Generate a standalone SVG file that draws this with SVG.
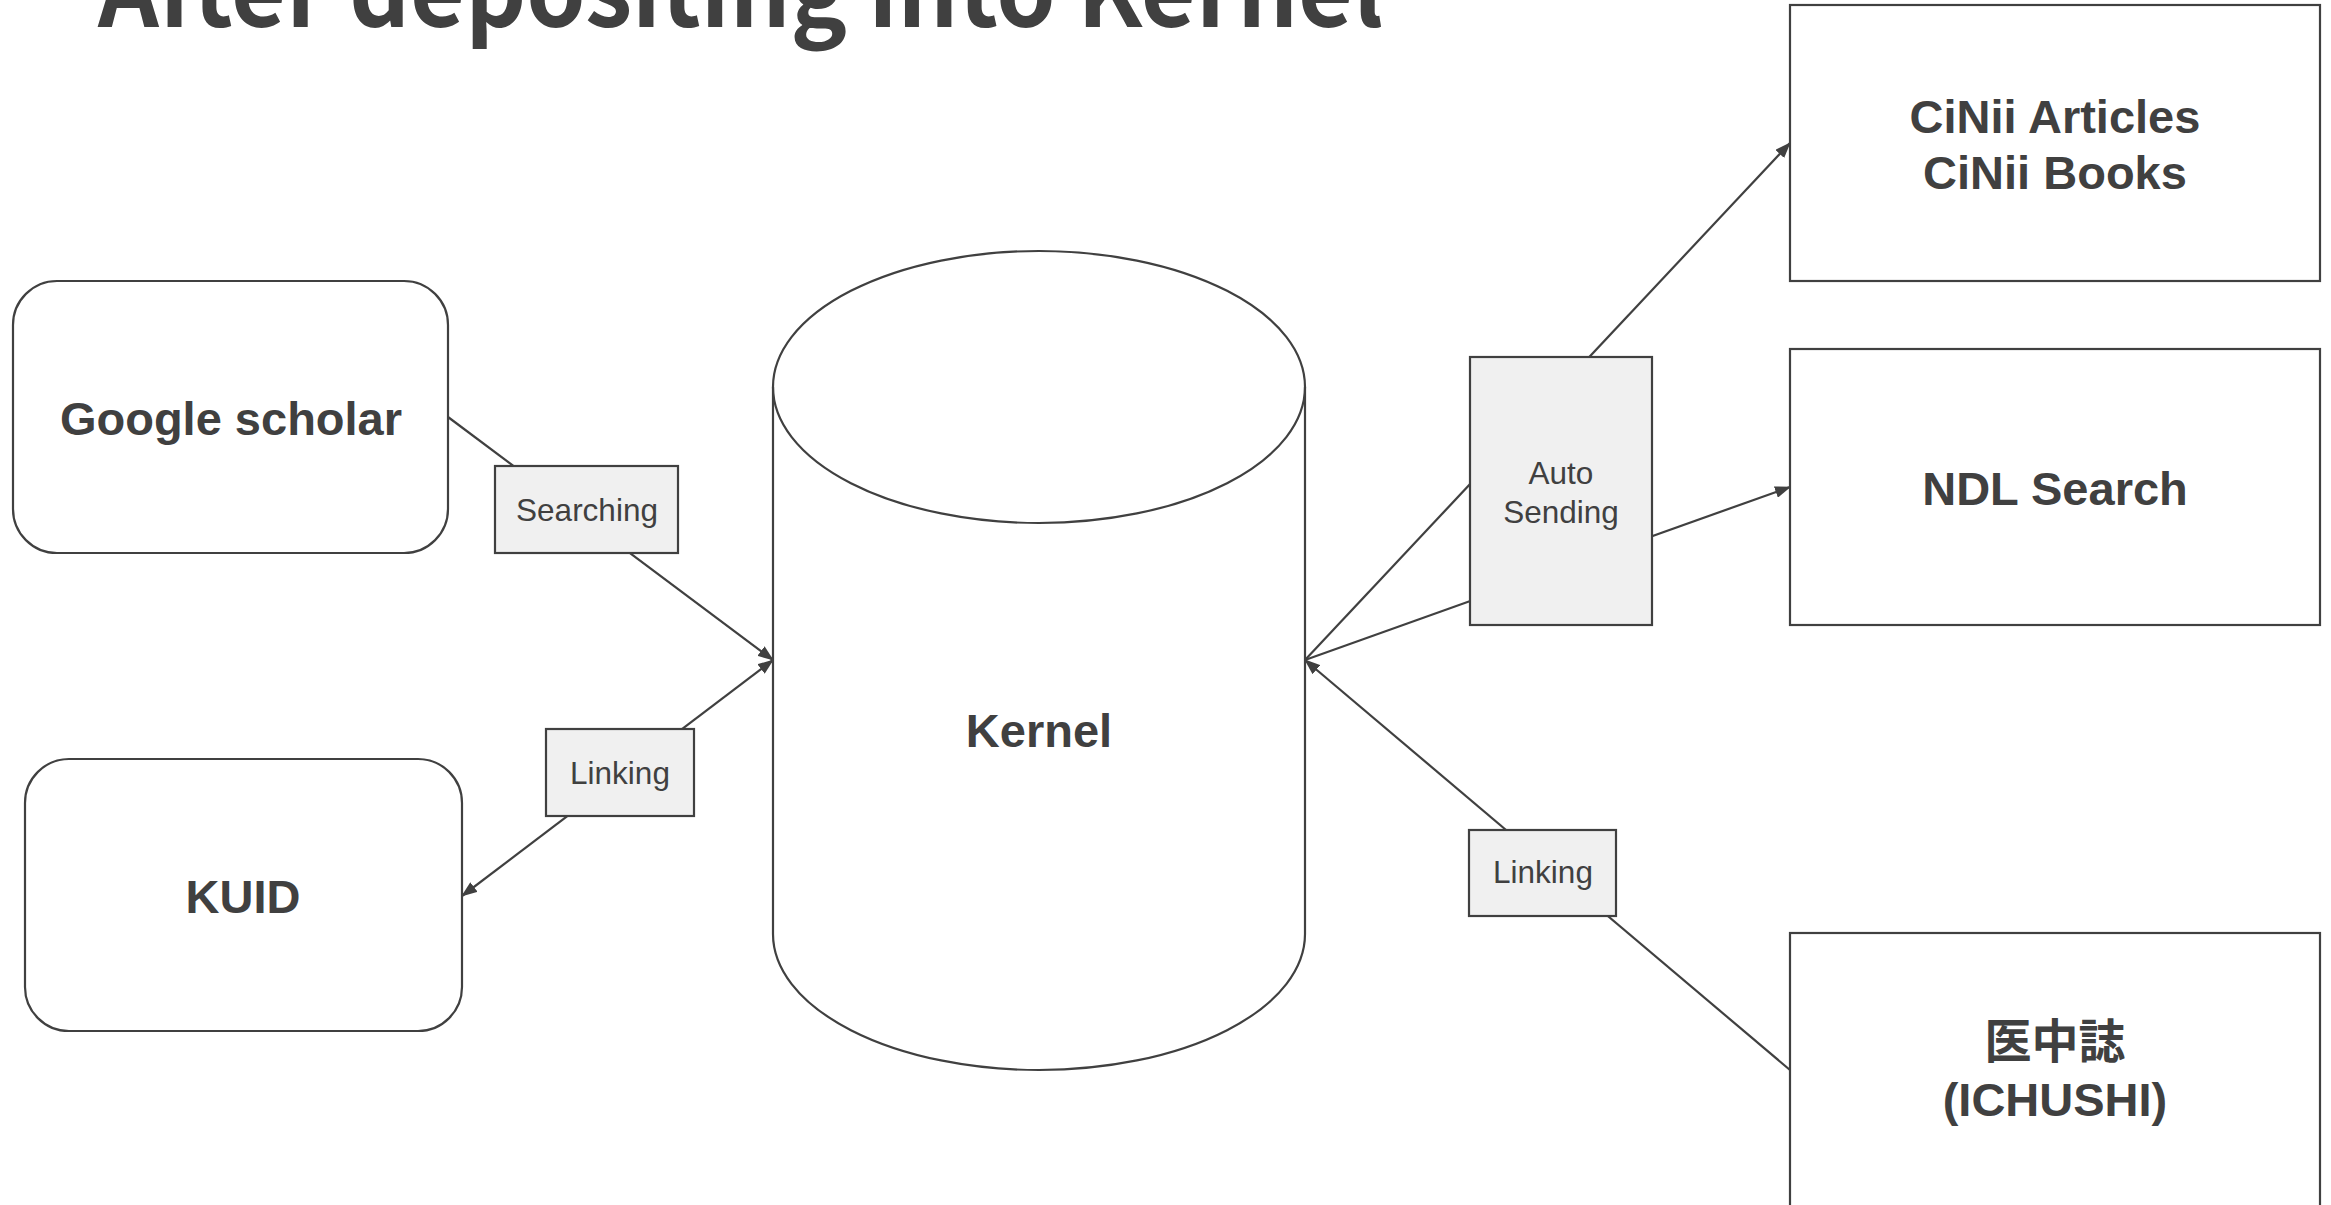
<svg xmlns="http://www.w3.org/2000/svg" width="2331" height="1205" viewBox="0 0 2331 1205">
  <style>
    .node { fill: #ffffff; stroke: #404040; stroke-width: 2.2; }
    .lbl { fill: #f0f0f0; stroke: #404040; stroke-width: 2.2; }
    .big { font-family: "Liberation Sans", Arial, sans-serif; font-weight: bold; font-size: 47px; fill: #404040; text-anchor: middle; }
    .small { font-family: "Liberation Sans", Arial, sans-serif; font-size: 31.5px; fill: #404040; text-anchor: middle; }
    .title { font-family: "Noto Sans CJK JP", "Noto Sans", sans-serif; font-weight: bold; font-size: 100px; fill: #404040; }
    .edge { fill: none; stroke: #404040; stroke-width: 2.2; }
  </style>
  <defs>
    <marker id="arr" viewBox="0 0 16 12" refX="15" refY="6" markerWidth="16" markerHeight="12" markerUnits="userSpaceOnUse" orient="auto-start-reverse">
      <path d="M0,0 L16,6 L0,12 Z" fill="#404040"/>
    </marker>
  </defs>
  <rect width="2331" height="1205" fill="#ffffff"/>

  <text class="title" x="98" y="27" textLength="1285" lengthAdjust="spacingAndGlyphs">After depositing into Kernel</text>

  <g id="connectors">
    <line class="edge" x1="448" y1="417" x2="773" y2="660" marker-end="url(#arr)"/>
    <line class="edge" x1="462" y1="896" x2="773" y2="660" marker-start="url(#arr)" marker-end="url(#arr)"/>
    <line class="edge" x1="1305" y1="660" x2="1790" y2="143" marker-end="url(#arr)"/>
    <line class="edge" x1="1305" y1="660" x2="1790" y2="487" marker-end="url(#arr)"/>
    <line class="edge" x1="1790" y1="1070" x2="1305" y2="660" marker-end="url(#arr)"/>
  </g>

  <g id="google-scholar">
    <rect class="node" x="13" y="281" width="435" height="272" rx="44" ry="44"/>
    <text class="big" x="231" y="435">Google scholar</text>
  </g>

  <g id="kuid">
    <rect class="node" x="25" y="759" width="437" height="272" rx="44" ry="44"/>
    <text class="big" x="243" y="913">KUID</text>
  </g>

  <g id="kernel">
    <path class="node" d="M773,387 L773,934 A266,136 0 0 0 1305,934 L1305,387 A266,136 0 0 0 773,387 Z"/>
    <path class="edge" d="M773,387 A266,136 0 0 0 1305,387"/>
    <text class="big" x="1039" y="747">Kernel</text>
  </g>

  <g id="cinii">
    <rect class="node" x="1790" y="5" width="530" height="276"/>
    <text class="big" x="2055" y="133">CiNii Articles</text>
    <text class="big" x="2055" y="189">CiNii Books</text>
  </g>

  <g id="ndl-search">
    <rect class="node" x="1790" y="349" width="530" height="276"/>
    <text class="big" x="2055" y="505">NDL Search</text>
  </g>

  <g id="ichushi">
    <rect class="node" x="1790" y="933" width="530" height="276"/>
    <text class="big" x="2055" y="1058" style="font-family: 'Liberation Sans', 'Noto Sans CJK JP', sans-serif;">医中誌</text>
    <text class="big" x="2055" y="1116">(ICHUSHI)</text>
  </g>

  <g id="label-searching">
    <rect class="lbl" x="495" y="466" width="183" height="87"/>
    <text class="small" x="587" y="521">Searching</text>
  </g>

  <g id="label-linking-left">
    <rect class="lbl" x="546" y="729" width="148" height="87"/>
    <text class="small" x="620" y="784">Linking</text>
  </g>

  <g id="label-auto-sending">
    <rect class="lbl" x="1470" y="357" width="182" height="268"/>
    <text class="small" x="1561" y="484">Auto</text>
    <text class="small" x="1561" y="523">Sending</text>
  </g>

  <g id="label-linking-right">
    <rect class="lbl" x="1469" y="830" width="147" height="86"/>
    <text class="small" x="1543" y="883">Linking</text>
  </g>
</svg>
